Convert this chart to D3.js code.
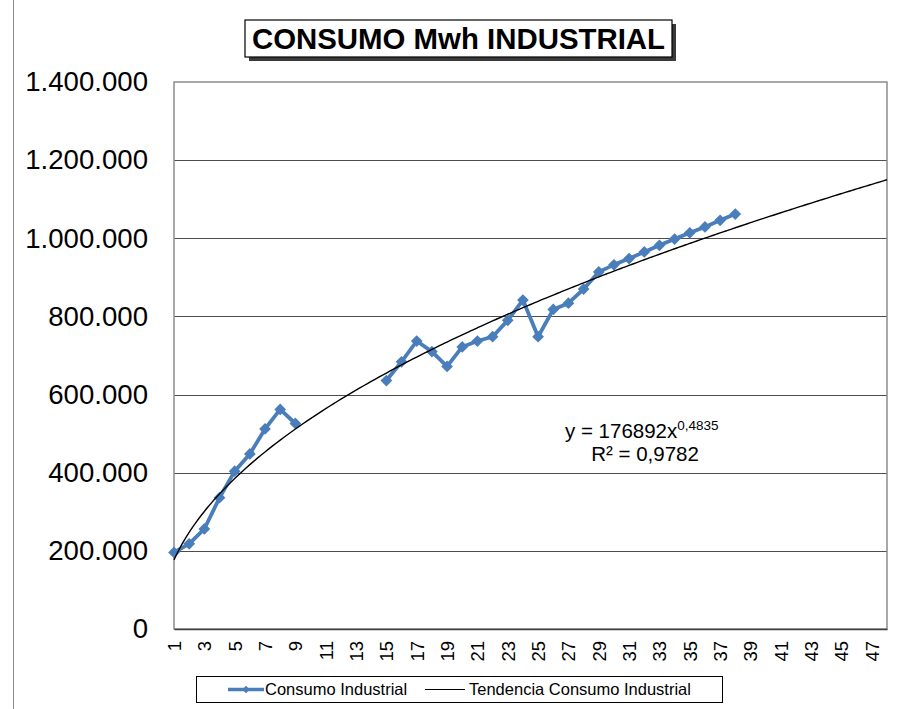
<!DOCTYPE html>
<html>
<head>
<meta charset="utf-8">
<script src="https://cdn.jsdelivr.net/npm/d3@7"></script>
<style>
  body { margin: 0; background: #fff; }
  svg { display: block; font-family: "Liberation Sans", Arial, sans-serif; }
</style>
</head>
<body>
<div id="chart"></div>
<script>
// periodos 1..38 (10-14 sin dato)
var periods = [1,2,3,4,5,6,7,8,9,10,11,12,13,14,15,16,17,18,19,20,21,22,23,24,25,26,27,28,29,30,31,32,33,34,35,36,37,38];
var consumo = [196000,218000,256000,336000,404000,448000,512000,562000,526000,
               null,null,null,null,null,
               636000,684000,737000,710000,672000,722000,737000,748000,790000,842000,
               748000,818000,834000,870000,914000,932000,948000,965000,982000,998000,
               1014000,1029000,1046000,1062000];
var yTicks = [0,200000,400000,600000,800000,1000000,1200000,1400000];
var xTicks = [1,3,5,7,9,11,13,15,17,19,21,23,25,27,29,31,33,35,37,39,41,43,45,47];
var nCategories = 48;

// tendencia potencial (del rótulo de la gráfica)
var trendCoef = 176892;
var trendExp = 0.4835;
var trendLabel = "y = 176892x";
var trendSup = "0,4835";
var r2Label = "R² = 0,9782";

var svgWidth = 897, svgHeight = 709;
var plot = {left: 174, right: 887, top: 82, bottom: 629};

var svg = d3.select("#chart").append("svg")
    .attr("width", svgWidth)
    .attr("height", svgHeight);

// borde exterior (solo se ve el lado izquierdo)
svg.append("line")
    .attr("x1", 13.5).attr("x2", 13.5)
    .attr("y1", 0).attr("y2", svgHeight)
    .attr("stroke", "#888").attr("stroke-width", 1);

var xSc = d3.scaleLinear().domain([1, nCategories]).range([plot.left, plot.right]);
var ySc = d3.scaleLinear().domain([0, 1400000]).range([plot.bottom, plot.top]);

var es = d3.formatLocale({decimal: ",", thousands: ".", grouping: [3], currency: ["", ""]});
var fmt = es.format(",d");

// gridlines
svg.append("g")
    .selectAll("line")
    .data(yTicks.filter(d => d > 0 && d < 1400000))
    .enter().append("line")
    .attr("x1", plot.left).attr("x2", plot.right)
    .attr("y1", d => Math.round(ySc(d)) + 0.5)
    .attr("y2", d => Math.round(ySc(d)) + 0.5)
    .attr("stroke", "#4d4d4d")
    .attr("stroke-width", 1.2);

// plot border
svg.append("rect")
    .attr("x", plot.left).attr("y", plot.top)
    .attr("width", plot.right - plot.left)
    .attr("height", plot.bottom - plot.top)
    .attr("fill", "none")
    .attr("stroke", "#8c8c8c")
    .attr("stroke-width", 1.5);

// y axis
var yAxis = d3.axisLeft(ySc).tickValues(yTicks).tickFormat(fmt).tickSize(0).tickPadding(26);
var yG = svg.append("g")
    .attr("transform", `translate(${plot.left},0)`)
    .call(yAxis);
yG.select(".domain").remove();
yG.selectAll("text")
    .attr("font-size", 27.6)
    .attr("font-family", "Liberation Sans, Arial, sans-serif")
    .attr("fill", "#000");

// x axis
var xAxis = d3.axisBottom(xSc).tickValues(xTicks).tickSize(0);
var xG = svg.append("g")
    .attr("transform", `translate(0,${plot.bottom})`)
    .call(xAxis);
xG.select(".domain")
    .attr("stroke", "#404040").attr("stroke-width", 1.5);
xG.selectAll("text")
    .attr("font-size", 18.5)
    .attr("font-family", "Liberation Sans, Arial, sans-serif")
    .attr("fill", "#000")
    .attr("text-anchor", "end")
    .attr("dy", null)
    .attr("y", 0)
    .attr("transform", "translate(6.5,12) rotate(-90)");

// tendencia
var trendX = d3.range(1, nCategories + 0.001, 0.25);
var trendLine = d3.line()
    .x(d => xSc(d))
    .y(d => ySc(trendCoef * Math.pow(d, trendExp)))
    .curve(d3.curveMonotoneX);

// serie
var pts = periods.map((p, i) => ({p: p, v: consumo[i]}));
var line = d3.line()
    .defined(d => d.v !== null)
    .x(d => xSc(d.p))
    .y(d => ySc(d.v));

svg.append("path")
    .datum(pts)
    .attr("d", line)
    .attr("fill", "none")
    .attr("stroke", "#4a7ebb")
    .attr("stroke-width", 3.8)
    .attr("stroke-linejoin", "round");

var diamond = d3.symbol().type(d3.symbolDiamond2 || d3.symbolDiamond).size(88);
svg.append("g")
    .selectAll("path")
    .data(pts.filter(d => d.v !== null))
    .enter().append("path")
    .attr("d", diamond)
    .attr("transform", d => `translate(${xSc(d.p)},${ySc(d.v)})`)
    .attr("fill", "#4a7ebb");

svg.append("path")
    .datum(trendX)
    .attr("d", trendLine)
    .attr("fill", "none")
    .attr("stroke", "#000")
    .attr("stroke-width", 1.4);

// ecuación
var eq = svg.append("text")
    .attr("x", 565).attr("y", 438)
    .attr("font-size", 20.5)
    .attr("fill", "#000");
eq.append("tspan").text(trendLabel);
eq.append("tspan").attr("dy", -8).attr("font-size", 13.5).text(trendSup);
svg.append("text")
    .attr("x", 645).attr("y", 461)
    .attr("text-anchor", "middle")
    .attr("font-size", 20.5)
    .attr("fill", "#000")
    .text(r2Label);

// título
var tBox = {x: 245, y: 20, w: 427, h: 37};
svg.append("rect")
    .attr("x", tBox.x + 4).attr("y", tBox.y + 4)
    .attr("width", tBox.w).attr("height", tBox.h)
    .attr("fill", "#3a3a3a");
svg.append("rect")
    .attr("x", tBox.x).attr("y", tBox.y)
    .attr("width", tBox.w).attr("height", tBox.h)
    .attr("fill", "#fff")
    .attr("stroke", "#000")
    .attr("stroke-width", 1.2);
svg.append("text")
    .attr("x", tBox.x + tBox.w / 2).attr("y", tBox.y + 29)
    .attr("text-anchor", "middle")
    .attr("font-size", 29.4)
    .attr("font-weight", "bold")
    .attr("fill", "#000")
    .text("CONSUMO Mwh INDUSTRIAL");

// leyenda
var lg = svg.append("g");
lg.append("rect")
    .attr("x", 196.5).attr("y", 676.5)
    .attr("width", 526).attr("height", 26)
    .attr("fill", "#fff")
    .attr("stroke", "#000")
    .attr("stroke-width", 1);
lg.append("line")
    .attr("x1", 228).attr("x2", 264).attr("y1", 689.5).attr("y2", 689.5)
    .attr("stroke", "#4a7ebb").attr("stroke-width", 3.5);
lg.append("path")
    .attr("d", d3.symbol().type(d3.symbolDiamond2 || d3.symbolDiamond).size(34))
    .attr("transform", "translate(246,689.5)")
    .attr("fill", "#4a7ebb");
lg.append("text")
    .attr("x", 265).attr("y", 695)
    .attr("font-size", 16.5)
    .text("Consumo Industrial");
lg.append("line")
    .attr("x1", 425).attr("x2", 465).attr("y1", 689.5).attr("y2", 689.5)
    .attr("stroke", "#000").attr("stroke-width", 1.2);
lg.append("text")
    .attr("x", 469).attr("y", 695)
    .attr("font-size", 16.5)
    .text("Tendencia Consumo Industrial");
</script>
</body>
</html>
